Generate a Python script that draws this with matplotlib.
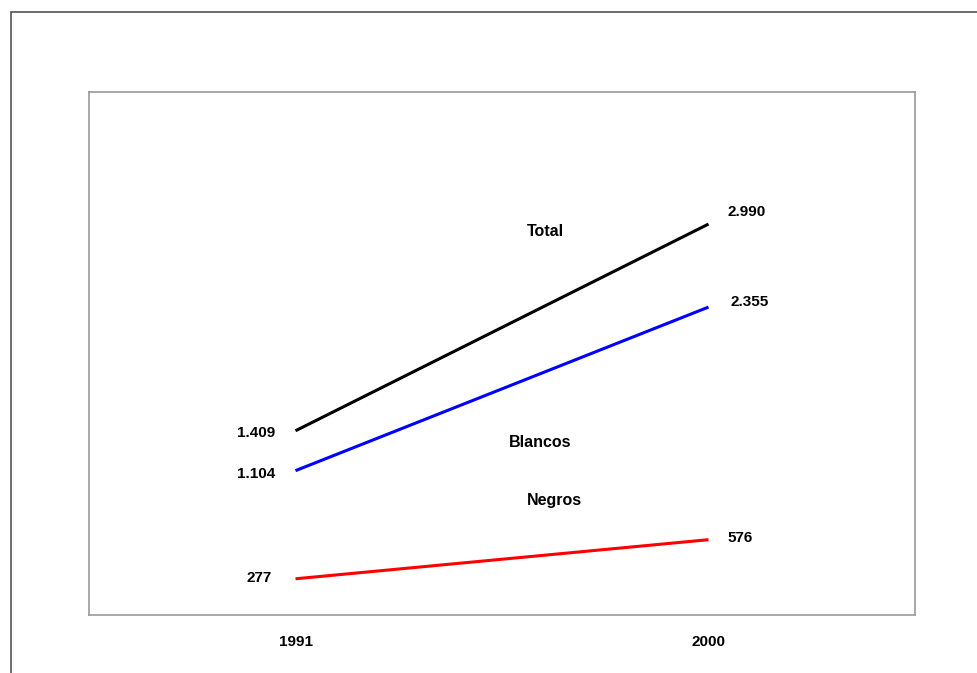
import matplotlib
matplotlib.use("Agg")
import matplotlib.pyplot as plt
from matplotlib.patches import Rectangle

# data
years = ["1991", "2000"]
total = [1409, 2990]
blancos = [1104, 2355]
negros = [277, 576]

series_names = ["Total", "Blancos", "Negros"]
series_colors = ["black", "#0000ff", "#ff0000"]

plt.rcParams["font.family"] = ["Liberation Sans", "DejaVu Sans"]
plt.rcParams["font.weight"] = "bold"


def fmt(v):
    return f"{v:,}".replace(",", ".")


fig = plt.figure(figsize=(9.78, 6.73), dpi=100)

# outer frame (runs off the right and bottom edges)
fig.patches.append(Rectangle((11.5 / 978, -0.1), 1.2, 1 - 12 / 673 + 0.1,
                             transform=fig.transFigure, fill=False,
                             edgecolor="#555555", linewidth=1.2))

ax = fig.add_axes([89 / 978, 58 / 673, 826 / 978, 523 / 673])
x = list(range(len(years)))

for vals, col in zip([total, blancos, negros], series_colors):
    ax.plot(x, vals, color=col, linewidth=2.2, solid_capstyle="butt")

# value labels at the ends of each line
left_off = [(-20, -2), (-20, -3), (-24, 1)]
right_off = [(19, 12), (22, 5), (19, 2)]
for vals, lo, ro in zip([total, blancos, negros], left_off, right_off):
    ax.annotate(fmt(vals[0]), (x[0], vals[0]), xytext=lo, textcoords="offset pixels",
                ha="right", va="center", fontsize=11, fontweight="bold")
    ax.annotate(fmt(vals[1]), (x[1], vals[1]), xytext=ro, textcoords="offset pixels",
                ha="left", va="center", fontsize=11, fontweight="bold")

# series names
name_pos = [(0.606, 2930), (0.592, 1320), (0.626, 876)]
for name, (nx, ny) in zip(series_names, name_pos):
    ax.text(nx, ny, name, ha="center", va="center", fontsize=11.5, fontweight="bold")

ax.set_xlim(-0.5, 1.5)
ax.set_ylim(0, 4000)
ax.set_xticks(x)
ax.set_xticklabels(years, fontsize=11, fontweight="bold")
ax.tick_params(axis="x", length=0, pad=14.5)
ax.set_yticks([])
for sp in ax.spines.values():
    sp.set_color("#999999")
    sp.set_linewidth(1.2)

fig.savefig("out.png", dpi=100)
